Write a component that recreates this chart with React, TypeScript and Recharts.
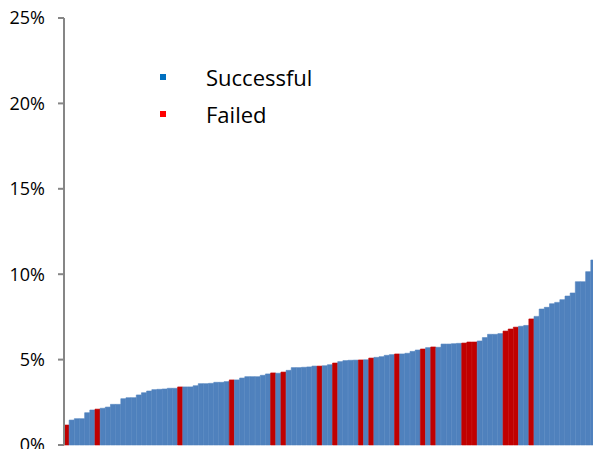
import React from 'react';
import { Bar, BarChart, Cell, Legend, XAxis, YAxis } from 'recharts';

// rate per project, sorted ascending (percent)
const rates = [
    1.17, 1.46, 1.54, 1.54, 1.89, 2.05, 2.1, 2.15, 2.22, 2.38,
    2.38, 2.71, 2.77, 2.77, 2.93, 3.06, 3.16, 3.24, 3.26, 3.28,
    3.32, 3.32, 3.4, 3.4, 3.4, 3.47, 3.59, 3.59, 3.61, 3.67,
    3.67, 3.71, 3.81, 3.81, 3.92, 4.0, 4.0, 4.0, 4.08, 4.16,
    4.22, 4.2, 4.27, 4.37, 4.53, 4.53, 4.55, 4.57, 4.62, 4.62,
    4.64, 4.7, 4.8, 4.88, 4.94, 4.96, 4.97, 4.98, 4.99, 5.09,
    5.13, 5.17, 5.25, 5.29, 5.33, 5.33, 5.37, 5.48, 5.56, 5.62,
    5.7, 5.74, 5.72, 5.91, 5.91, 5.93, 5.95, 5.97, 6.03, 6.03,
    6.09, 6.29, 6.48, 6.48, 6.52, 6.67, 6.79, 6.9, 6.95, 7.0,
    7.38, 7.53, 7.96, 8.06, 8.27, 8.35, 8.51, 8.72, 8.9, 9.56,
    9.56, 10.15, 10.83
];

// positions (in the sorted list) of the failed ones
const failedIdx = [0, 6, 22, 32, 40, 42, 49, 52, 57, 59, 64, 69, 71, 77, 78, 79, 85, 86, 87, 90];

const yTicks = [0, 5, 10, 15, 20, 25];

const legendItems = [
    { label: 'Successful', color: '#0070C0' },
    { label: 'Failed', color: '#FF0000' }
];

const BLUE = '#4F81BD';
const RED = '#C00000';

const data = rates.map((v, i) => ({
    id: i,
    rate: v,
    failed: failedIdx.includes(i)
}));

const LegendBox = () => (
    <div style={{ fontFamily: 'Open Sans', fontSize: 22, color: '#000' }}>
        {legendItems.map((it) => (
            <div key={it.label} style={{ display: 'flex', alignItems: 'center', height: 37 }}>
                <span style={{ width: 6, height: 6, background: it.color, marginRight: 40 }} />
                <span>{it.label}</span>
            </div>
        ))}
    </div>
);

export default function App() {
    return (
        <div style={{ width: 593, height: 449, overflow: 'hidden', position: 'relative', background: '#fff' }}>
            <style>{'body{margin:0;overflow:hidden}'}</style>
            <BarChart
                width={600}
                height={470}
                data={data}
                margin={{ top: 18, right: 4, left: 0, bottom: 25 }}
                barCategoryGap={0}
                barGap={0}
            >
                <XAxis dataKey='id' hide />
                <YAxis
                    width={64}
                    domain={[0, 25]}
                    ticks={yTicks}
                    tickFormatter={(v) => `${v}%`}
                    axisLine={{ stroke: '#868686', strokeWidth: 2 }}
                    tickLine={{ stroke: '#868686', strokeWidth: 2 }}
                    tickSize={6}
                    tickMargin={13}
                    tick={{ fill: '#000', fontSize: 18, fontFamily: 'Open Sans' }}
                />
                <Legend
                    layout='vertical'
                    align='center'
                    verticalAlign='middle'
                    content={() => <LegendBox />}
                    wrapperStyle={{ left: 160, top: 58, width: 200, height: 80 }}
                />
                <Bar dataKey='rate' isAnimationActive={false}>
                    {data.map((d) => (
                        <Cell
                            key={d.id}
                            fill={d.failed ? RED : BLUE}
                            stroke={d.failed ? RED : BLUE}
                            strokeWidth={0.6}
                        />
                    ))}
                </Bar>
            </BarChart>
        </div>
    );
}
